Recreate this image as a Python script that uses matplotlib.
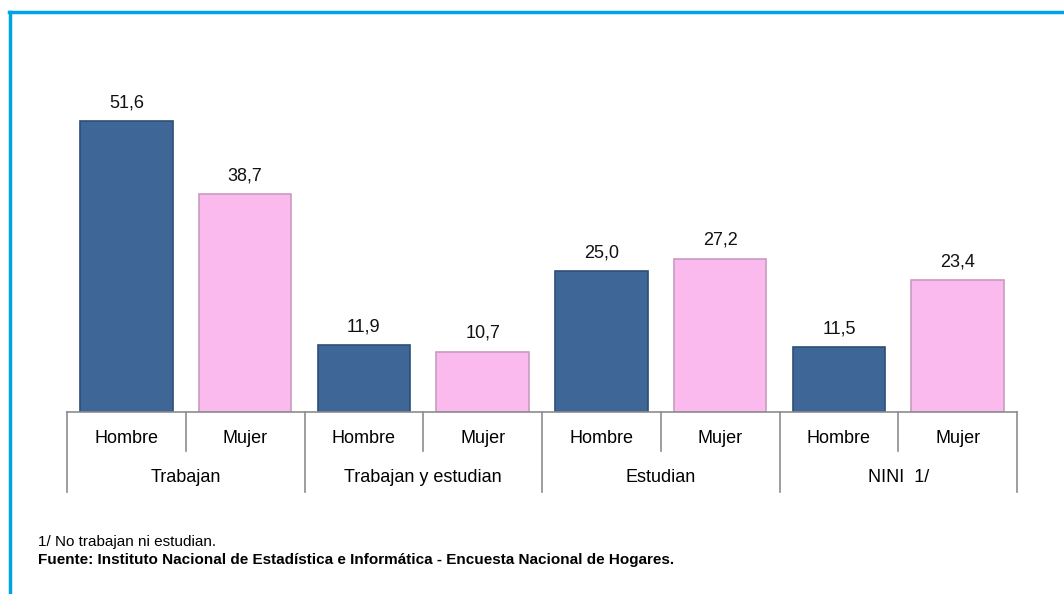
import matplotlib.pyplot as plt
from matplotlib import font_manager
from matplotlib.lines import Line2D
import numpy as np

# Data
groups = ["Trabajan", "Trabajan y estudian", "Estudian", "NINI  1/"]
sexes = ["Hombre", "Mujer"]
hombre = [51.6, 11.9, 25.0, 11.5]
mujer = [38.7, 10.7, 27.2, 23.4]
nota = "1/ No trabajan ni estudian."
fuente = "Fuente: Instituto Nacional de Estadística e Informática - Encuesta Nacional de Hogares."

blue = "#3E6697"
blue_edge = "#2C4E78"
pink = "#FBBAEE"
pink_edge = "#C89BBE"
frame_blue = "#00A3E4"

names = {f.name for f in font_manager.fontManager.ttflist}
narrow = "Liberation Sans Narrow" in names
plt.rcParams['font.family'] = ['Liberation Sans Narrow', 'Liberation Sans', 'DejaVu Sans'] if narrow else ['Liberation Sans', 'DejaVu Sans']
fs = 15 if narrow else 13
fs_note = 12 if narrow else 11

fig = plt.figure(figsize=(10.64, 5.94), dpi=100)
ax = fig.add_axes([67 / 1064, 1 - 412 / 594, 950 / 1064, 338 / 594])

values = []
colors = []
edges = []
for h, m in zip(hombre, mujer):
    values += [h, m]
    colors += [blue, pink]
    edges += [blue_edge, pink_edge]
x = np.arange(len(values)) + 0.5

bars = ax.bar(x, values, width=0.78, color=colors, edgecolor=edges, linewidth=1.2, zorder=2)
for b, v in zip(bars, values):
    ax.annotate(f"{v:.1f}".replace(".", ","), (b.get_x() + b.get_width() / 2, v),
                xytext=(0, 10), textcoords="offset points", ha="center", va="baseline",
                fontsize=fs, color="#111111")

ax.set_xlim(0, len(values))
ax.set_ylim(0, 60)
for s in ["top", "right", "left"]:
    ax.spines[s].set_visible(False)
ax.spines["bottom"].set_color("#8c8c8c")
ax.spines["bottom"].set_linewidth(1.2)
ax.set_xticks([])
ax.set_yticks([])

# hierarchical category axis
tr = ax.get_xaxis_transform()
for i in range(len(values) + 1):
    depth = -0.237 if i % 2 == 0 else -0.115
    ax.plot([i, i], [0, depth], transform=tr, color="#8c8c8c", lw=1.2, clip_on=False)
for i in range(len(values)):
    ax.text(i + 0.5, -0.077, sexes[i % 2], transform=tr, ha="center", va="center", fontsize=fs)
for g, name in enumerate(groups):
    ax.text(2 * g + 1, -0.195, name, transform=tr, ha="center", va="center", fontsize=fs)

# footnotes
fig.text(38 / 1064, 1 - 546 / 594, nota, ha="left", va="baseline", fontsize=fs_note)
fig.text(38 / 1064, 1 - 564 / 594, fuente, ha="left", va="baseline", fontsize=fs_note, fontweight="bold")

# blue frame (top and left only)
fig.add_artist(Line2D([9 / 1064, 1], [1 - 12 / 594] * 2, color=frame_blue, lw=2.5))
fig.add_artist(Line2D([10 / 1064] * 2, [1 - 12 / 594, 0], color=frame_blue, lw=2.5))

fig.savefig("out.png", dpi=100)
